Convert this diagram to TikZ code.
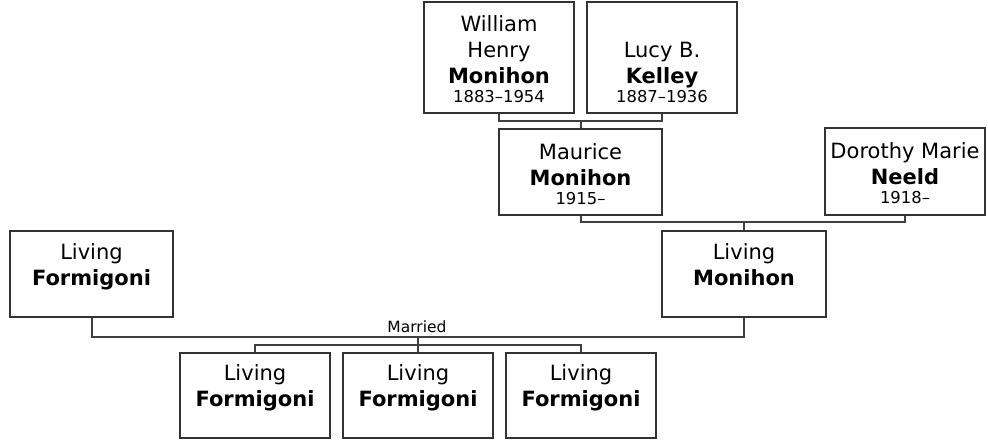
\documentclass[tikz,border=0pt]{standalone}
\usepackage{fontspec}
\setmainfont{DejaVu Sans}
\begin{document}
\begin{tikzpicture}[x=1pt,y=-1pt,
  person/.style={draw=black!80, line width=1.4pt, rectangle, inner sep=0pt, align=center,
    font=\fontsize{21}{26}\selectfont},
  conn/.style={draw=black!75, line width=2pt},
  lbl/.style={font=\fontsize{15.5}{16}\selectfont, inner sep=0pt, anchor=base}]
\useasboundingbox (0,0) rectangle (988,440);
\newcommand{\yrs}[1]{{\fontsize{16.4}{16}\selectfont #1}}
\newcommand{\nm}[1]{\textbf{#1}}
\newcommand{\fl}{\rule{0pt}{20pt}}
% grandparents
\node[person, minimum width=150pt, minimum height=111pt] (wil) at (499,57.5)
  {\fl William\\Henry\\\nm{Monihon}\\[-7pt]\yrs{1883–1954}};
\node[person, minimum width=150pt, minimum height=111pt] (lucy) at (662,57.5)
  {\fl\\Lucy B.\\\nm{Kelley}\\[-7pt]\yrs{1887–1936}};
% parents
\node[person, minimum width=163pt, minimum height=86pt] (mau) at (580.5,172)
  {\fl Maurice\\\nm{Monihon}\\[-7pt]\yrs{1915–}};
\node[person, minimum width=160pt, minimum height=87pt] (dor) at (905,171.5)
  {\fl Dorothy Marie\\\nm{Neeld}\\[-7pt]\yrs{1918–}};
% couple
\node[person, minimum width=163pt, minimum height=86pt] (lf) at (91.5,274)
  {\fl Living\\\nm{Formigoni}\\[-7pt]\yrs{\strut}};
\node[person, minimum width=164pt, minimum height=86pt] (lm) at (744,274)
  {\fl Living\\\nm{Monihon}\\[-7pt]\yrs{\strut}};
% children
\node[person, minimum width=150pt, minimum height=85pt] (c1) at (255,395.5)
  {\fl Living\\\nm{Formigoni}\\[-7pt]\yrs{\strut}};
\node[person, minimum width=150pt, minimum height=85pt] (c2) at (418,395.5)
  {\fl Living\\\nm{Formigoni}\\[-7pt]\yrs{\strut}};
\node[person, minimum width=150pt, minimum height=85pt] (c3) at (581,395.5)
  {\fl Living\\\nm{Formigoni}\\[-7pt]\yrs{\strut}};
% junction coordinates
\coordinate (j1) at (580.5,121);
\coordinate (j2) at (744,222);
\coordinate (j3) at (418,337);
\coordinate (j4) at (418,345);
% connectors
\draw[conn] (wil.south) |- (j1) -| (lucy.south);
\draw[conn] (j1) -- (mau.north);
\draw[conn] (mau.south) |- (j2) -| (dor.south);
\draw[conn] (j2) -- (lm.north);
\draw[conn] (lf.south) |- (j3) -| (lm.south);
\draw[conn] (j3) -- (j4);
\draw[conn] (c1.north) |- (j4) -| (c3.north);
\draw[conn] (j4) -- (c2.north);
\node[lbl] (mar) at (417,332) {Married};
\end{tikzpicture}
\end{document}
